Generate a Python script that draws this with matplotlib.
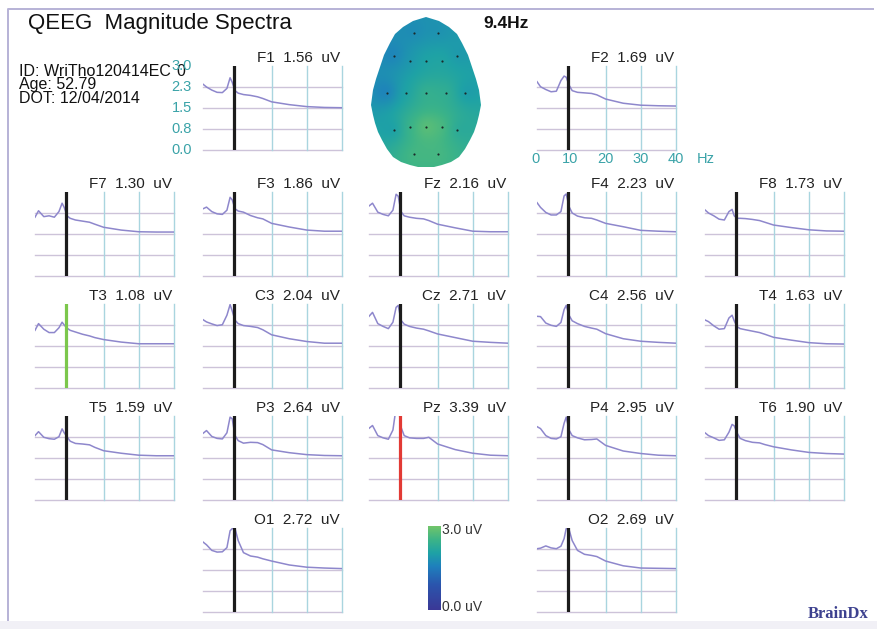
"""QEEG magnitude spectra: one small spectrum per 10-20 electrode plus a
topographic map of the magnitude at the dominant frequency."""

import numpy as np
import matplotlib

matplotlib.use("Agg")
import matplotlib.pyplot as plt  # noqa: E402
from matplotlib.colors import LinearSegmentedColormap  # noqa: E402
from matplotlib.patches import PathPatch, Rectangle  # noqa: E402
from matplotlib.path import Path  # noqa: E402
from matplotlib.transforms import blended_transform_factory  # noqa: E402

plt.rcParams["font.family"] = ["Liberation Sans", "DejaVu Sans"]

# ---- data -----------------------------------------------------------------
PEAK_HZ = 9.4
FREQS = [0.5, 1.5, 3, 4.5, 6, 7.3, 8.2, 8.8, 9.6, 10.5, 12, 14, 16, 17.5, 20, 25, 30, 35, 40]

CHANNELS = ["F1", "F2", "F7", "F3", "Fz", "F4", "F8", "T3", "C3", "Cz",
            "C4", "T4", "T5", "P3", "Pz", "P4", "T6", "O1", "O2"]
PEAK_UV = [1.56, 1.69, 1.30, 1.86, 2.16, 2.23, 1.73, 1.08, 2.04, 2.71,
           2.56, 1.63, 1.59, 2.64, 3.39, 2.95, 1.90, 2.72, 2.69]

SPEC_F1 = [2.35, 2.25, 2.14, 2.06, 2.05, 2.20, 2.58, 2.42, 2.12, 2.03, 1.98, 1.95, 1.90, 1.84, 1.72, 1.62, 1.55, 1.52, 1.51]
SPEC_F2 = [2.44, 2.26, 2.16, 2.08, 2.10, 2.48, 2.64, 2.60, 2.32, 2.12, 2.06, 2.04, 2.02, 1.97, 1.82, 1.67, 1.60, 1.58, 1.57]
SPEC_F7 = [2.10, 2.33, 2.12, 2.15, 2.10, 2.30, 2.60, 2.45, 2.15, 2.06, 2.00, 1.96, 1.92, 1.85, 1.74, 1.64, 1.58, 1.57, 1.57]
SPEC_F3 = [2.40, 2.46, 2.30, 2.22, 2.20, 2.35, 2.81, 2.72, 2.40, 2.32, 2.28, 2.16, 2.08, 2.04, 1.88, 1.75, 1.64, 1.60, 1.60]
SPEC_FZ = [2.50, 2.60, 2.28, 2.20, 2.15, 2.35, 2.92, 2.85, 2.30, 2.15, 2.10, 2.06, 2.04, 1.98, 1.85, 1.72, 1.60, 1.58, 1.58]
SPEC_F4 = [2.62, 2.45, 2.27, 2.18, 2.18, 2.30, 2.86, 2.93, 2.48, 2.25, 2.14, 2.08, 2.06, 2.00, 1.88, 1.76, 1.63, 1.60, 1.58]
SPEC_F8 = [2.36, 2.25, 2.15, 2.03, 2.00, 2.30, 2.38, 2.15, 2.06, 2.06, 2.05, 2.02, 1.98, 1.92, 1.82, 1.73, 1.65, 1.61, 1.60]
SPEC_T3 = [2.06, 2.30, 2.10, 1.98, 1.98, 2.15, 2.35, 2.25, 2.14, 2.06, 2.00, 1.92, 1.86, 1.80, 1.73, 1.64, 1.58, 1.58, 1.58]
SPEC_C3 = [2.44, 2.36, 2.29, 2.23, 2.26, 2.60, 2.98, 2.75, 2.42, 2.30, 2.23, 2.20, 2.16, 2.08, 1.90, 1.76, 1.66, 1.60, 1.60]
SPEC_CZ = [2.56, 2.70, 2.30, 2.20, 2.12, 2.35, 2.88, 2.95, 2.42, 2.28, 2.20, 2.14, 2.10, 2.04, 1.93, 1.80, 1.67, 1.63, 1.60]
SPEC_C4 = [2.56, 2.55, 2.32, 2.24, 2.20, 2.34, 2.80, 2.95, 2.60, 2.40, 2.30, 2.20, 2.14, 2.10, 1.94, 1.76, 1.67, 1.63, 1.60]
SPEC_T4 = [2.43, 2.37, 2.22, 2.10, 2.12, 2.50, 2.60, 2.40, 2.19, 2.12, 2.08, 2.03, 1.98, 1.92, 1.81, 1.71, 1.62, 1.58, 1.57]
SPEC_T5 = [2.30, 2.44, 2.24, 2.19, 2.17, 2.26, 2.54, 2.40, 2.26, 2.10, 2.02, 2.00, 1.97, 1.88, 1.76, 1.67, 1.60, 1.58, 1.58]
SPEC_P3 = [2.38, 2.48, 2.27, 2.20, 2.18, 2.40, 2.96, 2.90, 2.30, 2.12, 2.03, 2.06, 2.05, 1.98, 1.79, 1.69, 1.62, 1.59, 1.58]
SPEC_PZ = [2.56, 2.66, 2.30, 2.22, 2.17, 2.50, 3.30, 3.40, 2.60, 2.30, 2.22, 2.20, 2.20, 2.24, 2.00, 1.80, 1.67, 1.60, 1.58]
SPEC_P4 = [2.62, 2.55, 2.30, 2.20, 2.18, 2.26, 2.74, 2.96, 2.50, 2.30, 2.22, 2.15, 2.16, 2.18, 1.95, 1.75, 1.66, 1.60, 1.58]
SPEC_T6 = [2.40, 2.30, 2.22, 2.13, 2.15, 2.42, 2.70, 2.65, 2.40, 2.20, 2.12, 2.06, 2.04, 1.98, 1.90, 1.79, 1.70, 1.66, 1.64]
SPEC_O1 = [2.50, 2.40, 2.20, 2.14, 2.15, 2.30, 2.90, 2.98, 2.98, 2.55, 2.12, 2.00, 1.96, 1.90, 1.82, 1.68, 1.60, 1.57, 1.55]
SPEC_O2 = [2.26, 2.28, 2.36, 2.29, 2.26, 2.35, 2.62, 2.98, 2.95, 2.55, 2.20, 2.06, 2.02, 1.98, 1.82, 1.65, 1.57, 1.56, 1.55]

SPECTRA = {
    "F1": SPEC_F1, "F2": SPEC_F2, "F7": SPEC_F7, "F3": SPEC_F3, "Fz": SPEC_FZ,
    "F4": SPEC_F4, "F8": SPEC_F8, "T3": SPEC_T3, "C3": SPEC_C3, "Cz": SPEC_CZ,
    "C4": SPEC_C4, "T4": SPEC_T4, "T5": SPEC_T5, "P3": SPEC_P3, "Pz": SPEC_PZ,
    "P4": SPEC_P4, "T6": SPEC_T6, "O1": SPEC_O1, "O2": SPEC_O2,
}

Y_TICKS = [0.0, 0.75, 1.5, 2.25, 3.0]
Y_LABELS = ["0.0", "0.8", "1.5", "2.3", "3.0"]
X_TICKS = [0, 10, 20, 30, 40]

# ---- layout (pixels) ------------------------------------------------------
W, H = 877, 629
PW, PH = 139, 84
COL_X = [35, 203, 369, 537, 705]
ROW_BOTTOM = [150, 276, 388, 500, 612]
GRID = {
    "F1": (0, 1), "F2": (0, 3),
    "F7": (1, 0), "F3": (1, 1), "Fz": (1, 2), "F4": (1, 3), "F8": (1, 4),
    "T3": (2, 0), "C3": (2, 1), "Cz": (2, 2), "C4": (2, 3), "T4": (2, 4),
    "T5": (3, 0), "P3": (3, 1), "Pz": (3, 2), "P4": (3, 3), "T6": (3, 4),
    "O1": (4, 1), "O2": (4, 3),
}
# electrode dots on the head map
HEAD_XY = {
    "F1": (414, 33), "F2": (438, 33),
    "F7": (394, 56), "F3": (410, 61), "Fz": (426, 61), "F4": (442, 61), "F8": (457, 56),
    "T3": (387, 93), "C3": (406, 93), "Cz": (426, 93), "C4": (446, 93), "T4": (465, 93),
    "T5": (394, 130), "P3": (410, 127), "Pz": (426, 127), "P4": (442, 127), "T6": (457, 130),
    "O1": (414, 154), "O2": (438, 154),
}
HEAD_LEFT = [(426, 17), (413, 21), (403, 27), (395, 34), (390, 43), (384, 55),
             (380, 67), (376, 79), (373, 90), (371, 105), (373, 115), (375, 123),
             (378, 132), (382, 140), (387, 149), (393, 157), (401, 162),
             (410, 165), (418, 167), (426, 167)]

HGRID = "#cdc3d9"
VGRID = "#a9d5df"
CURVE = "#8e87cc"
TEAL = "#3aa3a8"
INK = "#222222"

uv_cmap = LinearSegmentedColormap.from_list(
    "uv", [(0.0, "#3b3896"), (0.3, "#2b55ad"), (0.52, "#1f80bd"),
           (0.68, "#1ea2a6"), (0.84, "#3db487"), (1.0, "#72c56a")])

fig = plt.figure(figsize=(W / 100, H / 100), dpi=100)
fig.patch.set_facecolor("white")

bg = fig.add_axes([0, 0, 1, 1], zorder=0)
bg.axis("off")

# frame
bg.add_patch(Rectangle((0, 621), W, 8, facecolor="#f1f0f6", edgecolor="none"))
bg.plot([8, 8, 874], [621, 9, 9], color="#b7b2d6", lw=1.4, solid_capstyle="butt")

bg.text(28, 24, "QEEG  Magnitude Spectra", fontsize=16, va="center", color="#111111")
bg.text(19, 64, "ID: WriTho120414EC\nAge: 52.79\nDOT: 12/04/2014",
        fontsize=11.5, va="top", linespacing=0.86, color="#111111")
bg.text(176, 72, "0", fontsize=11.5, va="center", color="#111111")
bg.text(483, 24, "9.4Hz", fontsize=12.5, fontweight="bold", va="center", color="#111111")

# topographic map: smoothed inverse-distance interpolation of the peak magnitudes
value_of = dict(zip(CHANNELS, PEAK_UV))
ex = np.array([HEAD_XY[c][0] for c in CHANNELS], float)
ey = np.array([HEAD_XY[c][1] for c in CHANNELS], float)
ev = np.array([value_of[c] for c in CHANNELS])
gx, gy = np.meshgrid(np.arange(366, 487, 0.5), np.arange(14, 170, 0.5))
d2 = (gx[..., None] - ex) ** 2 + (gy[..., None] - ey) ** 2 + 150.0
wts = 1.0 / d2
topo = (wts * ev).sum(-1) / wts.sum(-1)

outline = HEAD_LEFT + [(852 - x, y) for x, y in reversed(HEAD_LEFT[:-1])]
head = PathPatch(Path(outline, closed=False), transform=bg.transData,
                 facecolor="none", edgecolor="none")
bg.add_patch(head)
im = bg.imshow(topo, extent=(gx.min(), gx.max(), gy.max(), gy.min()), origin="upper",
               cmap=uv_cmap, vmin=0, vmax=3, interpolation="bilinear", aspect="auto")
im.set_clip_path(head)
bg.scatter(ex, ey, s=2.5, color="#1b2a2a", zorder=3, linewidths=0)

# colour bar
bar = np.linspace(3, 0, 256)[:, None]
bg.imshow(bar, extent=(428, 441, 610, 526), origin="upper", cmap=uv_cmap,
          vmin=0, vmax=3, aspect="auto")
bg.text(442, 530, "3.0 uV", fontsize=10, va="center", color="#333333")
bg.text(442, 607, "0.0 uV", fontsize=10, va="center", color="#333333")

bg.text(808, 614, "BrainDx", family=["Liberation Serif"], fontweight="bold",
        fontsize=12, va="center", color="#3d418f")

bg.set_xlim(0, W)
bg.set_ylim(H, 0)

# marker colour: lowest site green, highest red
lo, hi = CHANNELS[int(np.argmin(PEAK_UV))], CHANNELS[int(np.argmax(PEAK_UV))]


def panel(name):
    r, c = GRID[name]
    ax = fig.add_axes([COL_X[c] / W, 1 - ROW_BOTTOM[r] / H, PW / W, PH / H], zorder=2)
    ax.set_xlim(0.5, 40)
    ax.set_ylim(0, 3)
    ax.axis("off")
    for y in Y_TICKS[:-1]:
        ax.axhline(y, color=HGRID, lw=1.0, zorder=1, clip_on=False)
    for x in X_TICKS[2:]:
        ax.axvline(x, color=VGRID, lw=1.0, zorder=1, clip_on=False)
    ax.plot(FREQS, SPECTRA[name], color=CURVE, lw=1.1, zorder=2)
    mark = "#7cc74c" if name == lo else "#e23a35" if name == hi else "#1c1c1c"
    ax.axvline(PEAK_HZ, color=mark, lw=2.3, zorder=3)
    ax.text(1 - 2 / PW, 1 + 4 / PH, f"{name}  {value_of[name]:.2f}  uV",
            transform=ax.transAxes, ha="right", va="baseline", fontsize=11, color=INK)
    return ax


for ch in CHANNELS:
    ax = panel(ch)
    if ch == "F1":
        tr = blended_transform_factory(ax.transAxes, ax.transData)
        for y, lab in zip(Y_TICKS, Y_LABELS):
            ax.text(-11 / PW, y, lab, transform=tr, ha="right", va="center",
                    fontsize=10.5, color=TEAL)
    if ch == "F2":
        tr = blended_transform_factory(ax.transData, ax.transAxes)
        for x in X_TICKS:
            ax.text(x, -9 / PH, str(x), transform=tr, ha="center", va="center",
                    fontsize=10.5, color=TEAL)
        ax.text(48.5, -9 / PH, "Hz", transform=tr, ha="center", va="center",
                fontsize=10.5, color=TEAL)

fig.savefig("out.png", dpi=100)
